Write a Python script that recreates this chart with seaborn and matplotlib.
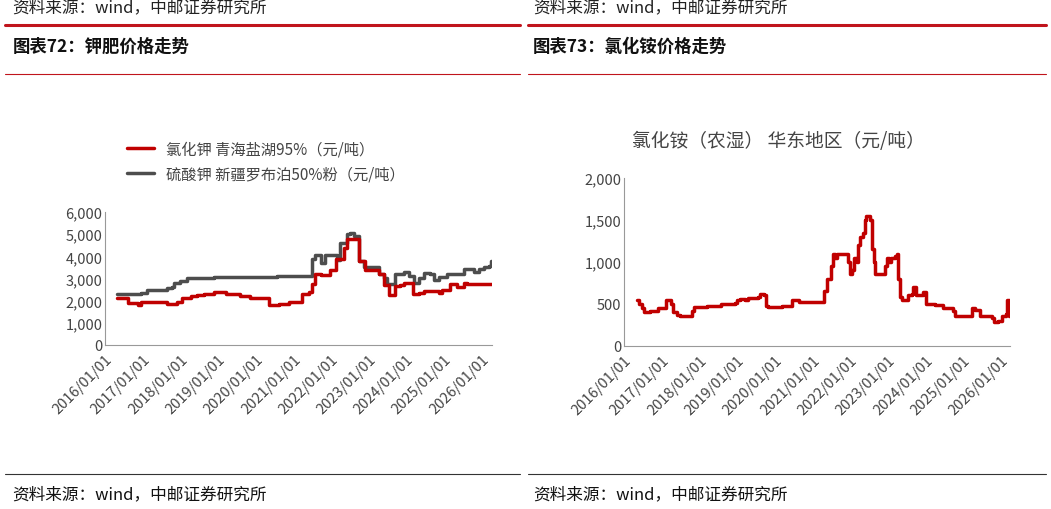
import numpy as np
import pandas as pd
import matplotlib
matplotlib.use('Agg')
import matplotlib.pyplot as plt
import seaborn as sns

sns.set_style('white')
plt.rcParams['font.family'] = ['Noto Sans CJK SC', 'DejaVu Sans']

RED = '#c00000'
GRAY = '#4d4d4d'

# breakpoints: fractional year, price (step-post)
kcl_t = [2016.32, 2016.61, 2016.87, 2016.94, 2017.65, 2017.91, 2018.04, 2018.27, 2018.44, 2018.62,
         2018.88, 2019.22, 2019.59, 2019.86, 2020.35, 2020.61, 2020.88, 2021.23, 2021.41, 2021.50,
         2021.57, 2021.74, 2021.98, 2022.12, 2022.34, 2022.42, 2022.73, 2022.91, 2023.27, 2023.40,
         2023.53, 2023.71, 2023.84, 2023.93, 2024.17, 2024.33, 2024.46, 2024.86, 2024.95, 2025.17,
         2025.35, 2025.52, 2025.61, 2026.27]
kcl_v = [2100, 1900, 1800, 1950, 1850, 1950, 2100, 2200, 2250, 2300,
         2400, 2300, 2200, 2100, 1800, 1850, 1950, 2300, 2400, 2750,
         3200, 3150, 3400, 3900, 4400, 4800, 3800, 3400, 3200, 2700,
         2250, 2650, 2700, 2800, 2300, 2350, 2450, 2350, 2500, 2750,
         2600, 2800, 2750, 2750]

k2so4_t = [2016.32, 2016.94, 2017.12, 2017.65, 2017.78, 2017.82, 2018.00, 2018.18, 2018.88, 2020.57,
           2021.50, 2021.58, 2021.72, 2021.85, 2022.16, 2022.25, 2022.42, 2022.51, 2022.60, 2022.73,
           2022.87, 2023.27, 2023.40, 2023.49, 2023.71, 2023.93, 2024.06, 2024.19, 2024.33, 2024.46,
           2024.64, 2024.73, 2024.86, 2025.08, 2025.52, 2025.79, 2025.92, 2026.05, 2026.19, 2026.25,
           2026.27]
k2so4_v = [2300, 2350, 2500, 2550, 2600, 2800, 2900, 3000, 3050, 3100,
           3900, 4050, 3700, 4050, 3850, 4600, 5000, 5050, 4900, 3800,
           3500, 3200, 3000, 2750, 3200, 3300, 3100, 2800, 3000, 3250,
           3200, 2950, 3050, 3200, 3450, 3300, 3450, 3500, 3550, 3800,
           3600]

nh4_t = [2016.33, 2016.40, 2016.46, 2016.52, 2016.68, 2016.90, 2017.11, 2017.23, 2017.30, 2017.39,
         2017.48, 2017.74, 2017.79, 2017.85, 2018.19, 2018.57, 2018.94, 2018.98, 2019.07, 2019.20,
         2019.29, 2019.56, 2019.60, 2019.71, 2019.76, 2019.82, 2020.18, 2020.46, 2020.65, 2021.30,
         2021.39, 2021.50, 2021.55, 2021.59, 2021.64, 2021.88, 2021.95, 2021.99, 2022.05, 2022.11,
         2022.17, 2022.21, 2022.27, 2022.35, 2022.39, 2022.43, 2022.52, 2022.57, 2022.63, 2022.65,
         2022.88, 2022.92, 2022.98, 2023.04, 2023.07, 2023.19, 2023.25, 2023.27, 2023.32, 2023.36,
         2023.54, 2023.63, 2023.67, 2023.74, 2023.94, 2024.01, 2024.25, 2024.47, 2024.72, 2024.78,
         2025.18, 2025.23, 2025.31, 2025.45, 2025.76, 2025.81, 2025.93, 2026.02, 2026.13, 2026.16,
         2026.22, 2026.24]
nh4_v = [550, 500, 450, 400, 410, 450, 550, 500, 400, 370,
         350, 350, 420, 460, 470, 500, 510, 540, 560, 550,
         570, 580, 620, 600, 480, 460, 480, 550, 520, 650,
         800, 950, 1100, 1050, 1100, 1100, 1000, 850, 900, 1050,
         1000, 1200, 1300, 1350, 1500, 1550, 1500, 1150, 1000, 850,
         850, 950, 1050, 1000, 1050, 1070, 1100, 800, 580, 550,
         600, 620, 700, 600, 640, 500, 490, 450, 420, 350,
         350, 450, 430, 350, 330, 280, 300, 350, 380, 550,
         350, 350]

years = list(range(2016, 2027))
year_labels = [f'{y}/01/01' for y in years]

fig = plt.figure(figsize=(10.51, 5.10), dpi=100, facecolor='white')

# header / footer decorations
for x0, x1 in [(0.005, 0.495), (0.502, 0.995)]:
    fig.add_artist(plt.Line2D([x0, x1], [1 - 26/510] * 2, color='#c0141c', lw=2.2))
    fig.add_artist(plt.Line2D([x0, x1], [1 - 75/510] * 2, color='#c0141c', lw=0.8))
    fig.add_artist(plt.Line2D([x0, x1], [1 - 475/510] * 2, color='#333333', lw=0.8))
for x0, num, name in [(0.012, '72', '钾肥价格走势'), (0.507, '73', '氯化铵价格走势')]:
    fig.text(x0, 1 - 8/510, '资料来源：wind，中邮证券研究所', fontsize=12, va='center', color='#222')
    fig.text(x0, 1 - 47/510, f'图表{num}：{name}', fontsize=12.5, fontweight='bold', va='center', color='#111')
    fig.text(x0, 1 - 495/510, '资料来源：wind，中邮证券研究所', fontsize=12, va='center', color='#111')


def style_axis(ax, ymax, step, xmax):
    ax.set_xlim(2016, xmax)
    ax.set_ylim(0, ymax)
    ax.set_yticks(np.arange(0, ymax + 1, step))
    ax.set_yticklabels([f'{int(v):,}' for v in np.arange(0, ymax + 1, step)], fontsize=10.5, color='#444')
    ax.set_xticks(years)
    ax.set_xticklabels(year_labels, rotation=45, ha='right', rotation_mode='anchor', fontsize=10.5, color='#444')
    for s in ['top', 'right']:
        ax.spines[s].set_visible(False)
    for s in ['left', 'bottom']:
        ax.spines[s].set_color('#999')
    ax.tick_params(axis='x', length=3, color='#999', pad=2)
    ax.tick_params(axis='y', length=0, pad=2)
    ax.set_xlabel('')
    ax.set_ylabel('')


# left chart
ax1 = fig.add_axes([0.100, 0.322, 0.368, 0.260])
df_k = pd.DataFrame({'t': kcl_t, 'v': kcl_v})
df_s = pd.DataFrame({'t': k2so4_t, 'v': k2so4_v})
sns.lineplot(data=df_s, x='t', y='v', ax=ax1, color=GRAY, lw=2.5, drawstyle='steps-post',
             label='硫酸钾 新疆罗布泊50%粉（元/吨）')
sns.lineplot(data=df_k, x='t', y='v', ax=ax1, color=RED, lw=2.5, drawstyle='steps-post',
             label='氯化钾 青海盐湖95%（元/吨）')
style_axis(ax1, 6000, 1000, 2026.27)
h, l = ax1.get_legend_handles_labels()
ax1.legend(h[::-1], l[::-1], loc='lower left', bbox_to_anchor=(0.04, 1.18), frameon=False,
           fontsize=11, handlelength=1.8, labelspacing=0.5, borderaxespad=0, labelcolor='#444')

# right chart
ax2 = fig.add_axes([0.594, 0.320, 0.367, 0.329])
df_n = pd.DataFrame({'t': nh4_t, 'v': nh4_v})
sns.lineplot(data=df_n, x='t', y='v', ax=ax2, color=RED, lw=2.5, drawstyle='steps-post')
style_axis(ax2, 2000, 500, 2026.24)
fig.text(778/1051, 1 - 141/510, '氯化铵（农湿） 华东地区（元/吨）', fontsize=13.5, ha='center', va='center', color='#444')

plt.savefig('out.png', dpi=100, facecolor='white')
